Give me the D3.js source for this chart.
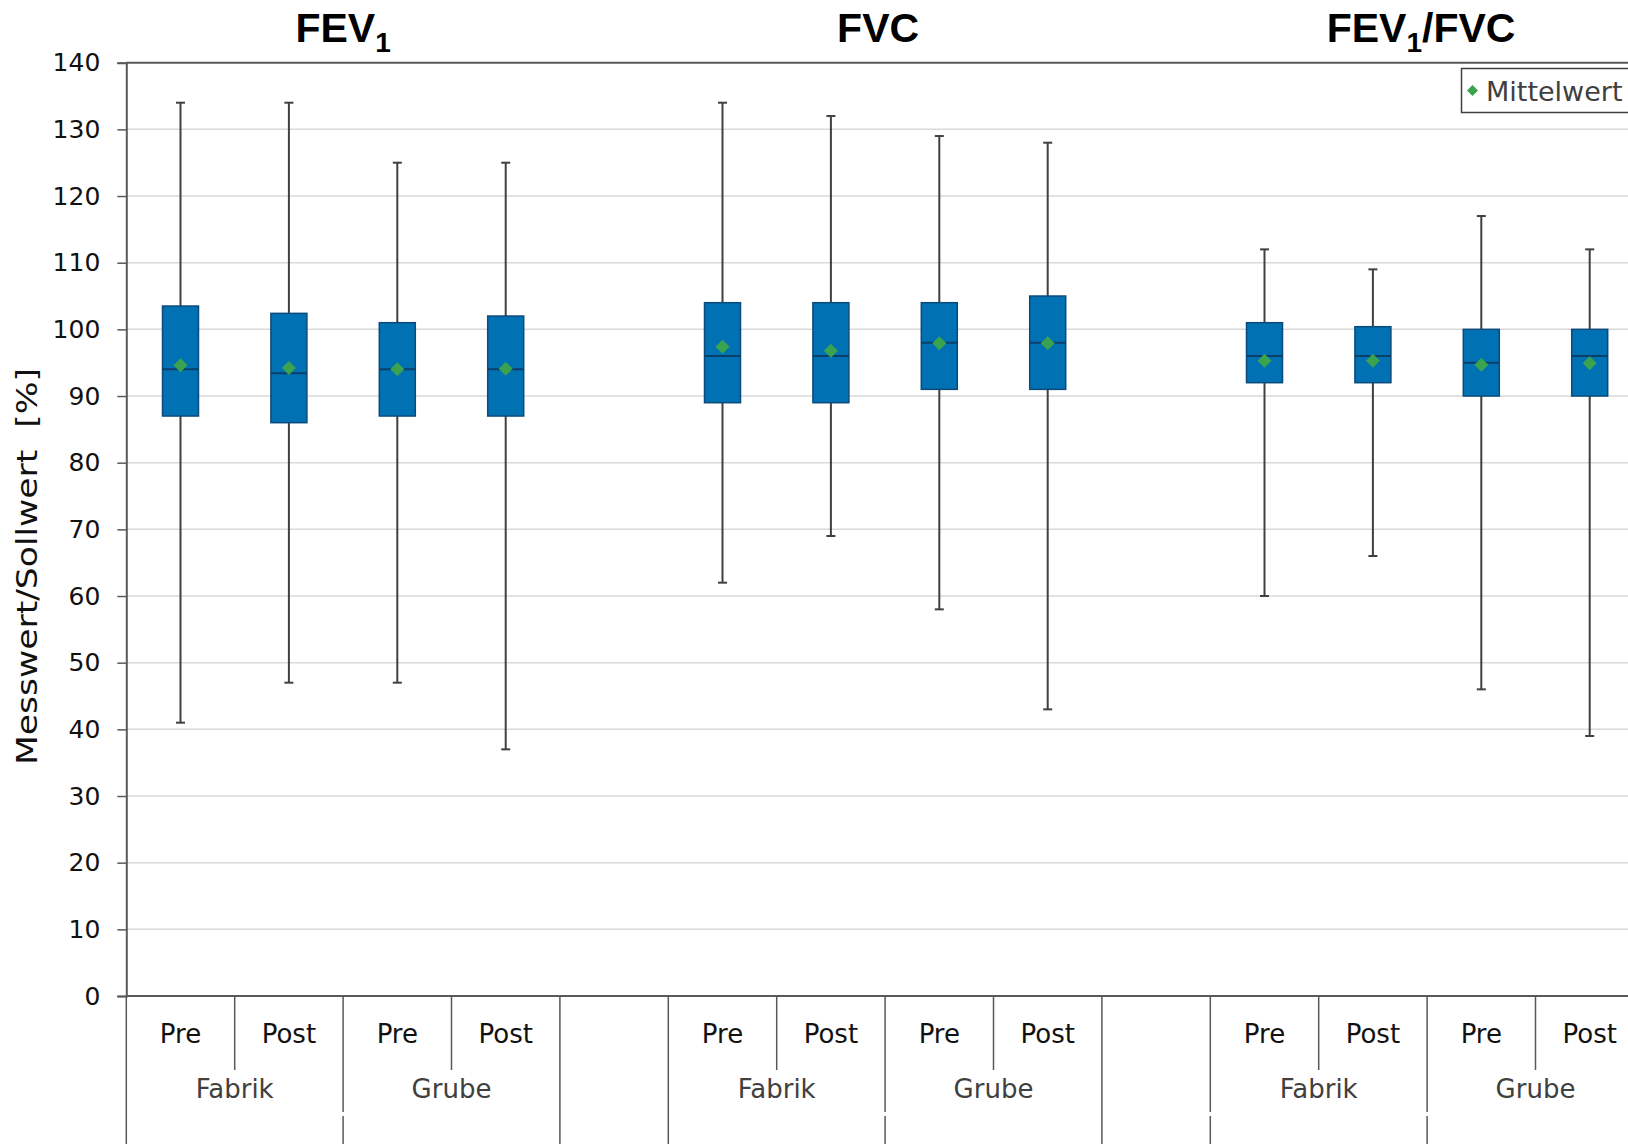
<!DOCTYPE html>
<html>
<head>
<meta charset="utf-8">
<script src="https://cdn.jsdelivr.net/npm/d3@7"></script>
<style>
  html, body { margin: 0; padding: 0; background: #fff; }
  svg { display: block; }
</style>
</head>
<body>
<svg id="chart" width="1628" height="1144"></svg>
<script>
// ---------- DATA ----------
const measures = ["FEV1", "FVC", "FEV1/FVC"];
const sites = ["Fabrik", "Grube"];
const phases = ["Pre", "Post"];
// one key per box, in drawing order
const boxKeys = [
  "FEV1|Fabrik|Pre", "FEV1|Fabrik|Post", "FEV1|Grube|Pre", "FEV1|Grube|Post",
  "FVC|Fabrik|Pre", "FVC|Fabrik|Post", "FVC|Grube|Pre", "FVC|Grube|Post",
  "FEV1/FVC|Fabrik|Pre", "FEV1/FVC|Fabrik|Post", "FEV1/FVC|Grube|Pre", "FEV1/FVC|Grube|Post"
];
// slots on the category axis (empty slots between the measures)
const slotKeys = [
  "FEV1|Fabrik|Pre", "FEV1|Fabrik|Post", "FEV1|Grube|Pre", "FEV1|Grube|Post", "gap1",
  "FVC|Fabrik|Pre", "FVC|Fabrik|Post", "FVC|Grube|Pre", "FVC|Grube|Post", "gap2",
  "FEV1/FVC|Fabrik|Pre", "FEV1/FVC|Fabrik|Post", "FEV1/FVC|Grube|Pre", "FEV1/FVC|Grube|Post"
];
const whiskerMax = [134, 134, 125, 125, 134, 132, 129, 128, 112, 109, 117, 112];
const q3Values   = [103.5, 102.4, 101, 102, 104, 104, 104, 105, 101, 100.4, 100, 100];
const medians    = [94, 93.4, 94, 94, 96, 96, 98, 98, 96, 96, 95, 96];
const q1Values   = [87, 86, 87, 87, 89, 89, 91, 91, 92, 92, 90, 90];
const whiskerMin = [41, 47, 47, 37, 62, 69, 58, 43, 60, 66, 46, 39];
const means      = [94.6, 94.2, 94, 94.1, 97.4, 96.8, 97.9, 97.9, 95.3, 95.3, 94.7, 94.9];
const yTicks = [0, 10, 20, 30, 40, 50, 60, 70, 80, 90, 100, 110, 120, 130, 140];
const yLabel = "Messwert/Sollwert  [%]";
const legendLabel = "Mittelwert";

// ---------- LAYOUT ----------
const svg = d3.select("#chart");
const W = 1628, H = 1144;
const plotLeft = 126.3, plotTop = 62.7, plotBottom = 996;
const slotW = 108.4;
const plotRight = plotLeft + slotW * slotKeys.length;

const x = d3.scaleBand().domain(slotKeys).range([plotLeft, plotRight]).paddingInner(0).paddingOuter(0);
const y = d3.scaleLinear().domain([0, 140]).range([plotBottom, plotTop]);

const boxes = boxKeys.map((k, i) => ({
  key: k, hi: whiskerMax[i], q3: q3Values[i], med: medians[i],
  q1: q1Values[i], lo: whiskerMin[i], mean: means[i]
}));

const FONT = "'DejaVu Sans', Verdana, sans-serif";
const AXIS_COL = "#595959";
const diamondPath = r => `M0,${-r}L${r},0L0,${r}L${-r},0Z`;

svg.append("rect").attr("width", W).attr("height", H).attr("fill", "#fff");

// gridlines
svg.append("g").selectAll("line")
  .data(yTicks.filter(t => t > 0 && t < 140))
  .join("line")
  .attr("x1", plotLeft).attr("x2", W)
  .attr("y1", d => y(d)).attr("y2", d => y(d))
  .attr("stroke", "#d9d9d9").attr("stroke-width", 1.5);

// top frame line
svg.append("line").attr("x1", plotLeft).attr("x2", W)
  .attr("y1", y(140)).attr("y2", y(140))
  .attr("stroke", AXIS_COL).attr("stroke-width", 2);

// y axis
const yAxis = d3.axisLeft(y).tickValues(yTicks).tickSize(9).tickPadding(17).tickFormat(d3.format("d"));
const yG = svg.append("g").attr("transform", `translate(${plotLeft},0)`).call(yAxis);
yG.select(".domain").attr("stroke", AXIS_COL).attr("stroke-width", 2);
yG.selectAll(".tick line").attr("stroke", AXIS_COL).attr("stroke-width", 1.5);
yG.selectAll(".tick text").attr("font-family", FONT).attr("font-size", 25).attr("fill", "#111");

// y axis title
svg.append("text")
  .attr("transform", `translate(37,${566.5}) rotate(-90)`)
  .attr("text-anchor", "middle")
  .attr("font-family", FONT).attr("font-size", 29).attr("fill", "#111")
  .attr("textLength", 397).attr("lengthAdjust", "spacingAndGlyphs")
  .style("white-space", "pre")
  .text(yLabel);

// x axis line
svg.append("line").attr("x1", plotLeft).attr("x2", W)
  .attr("y1", plotBottom).attr("y2", plotBottom)
  .attr("stroke", AXIS_COL).attr("stroke-width", 2);

// multi-level category axis
const catG = svg.append("g");
const measureGroups = measures.map(m => {
  const ks = slotKeys.filter(k => k.split("|")[0] === m);
  return { m, start: x(ks[0]), end: x(ks[ks.length - 1]) + x.bandwidth() };
});
// phase dividers (between Pre and Post)
boxKeys.filter(k => k.endsWith("|Post")).forEach(k => {
  catG.append("line").attr("x1", x(k)).attr("x2", x(k))
    .attr("y1", plotBottom).attr("y2", 1070)
    .attr("stroke", AXIS_COL).attr("stroke-width", 1.5);
});
// site boundaries
const siteBounds = [];
measureGroups.forEach((g, gi) => {
  const mid = x(`${g.m}|Grube|Pre`);
  siteBounds.push({ x: g.start, gap: gi === 2 });
  siteBounds.push({ x: mid, gap: true });
  siteBounds.push({ x: g.end, gap: false });
});
siteBounds.forEach(b => {
  if (b.gap) {
    catG.append("line").attr("x1", b.x).attr("x2", b.x).attr("y1", plotBottom).attr("y2", 1112)
      .attr("stroke", AXIS_COL).attr("stroke-width", 1.5);
    catG.append("line").attr("x1", b.x).attr("x2", b.x).attr("y1", 1116).attr("y2", H)
      .attr("stroke", AXIS_COL).attr("stroke-width", 1.5);
  } else {
    catG.append("line").attr("x1", b.x).attr("x2", b.x).attr("y1", plotBottom).attr("y2", H)
      .attr("stroke", AXIS_COL).attr("stroke-width", 1.5);
  }
});
// phase labels
catG.selectAll("text.phase").data(boxKeys).join("text")
  .attr("class", "phase")
  .attr("x", d => x(d) + x.bandwidth() / 2).attr("y", 1042.5)
  .attr("text-anchor", "middle")
  .attr("font-family", FONT).attr("font-size", 26).attr("fill", "#111")
  .text(d => d.split("|")[2]);
// site labels
const siteLabels = [];
measures.forEach(m => sites.forEach(s => {
  siteLabels.push({ label: s, cx: x(`${m}|${s}|Pre`) + x.bandwidth() });
}));
catG.selectAll("text.site").data(siteLabels).join("text")
  .attr("class", "site")
  .attr("x", d => d.cx).attr("y", 1098)
  .attr("text-anchor", "middle")
  .attr("font-family", FONT).attr("font-size", 26).attr("fill", "#404040")
  .text(d => d.label);

// measure titles
const titleOffsets = [0, -7, -6];
measureGroups.forEach((g, gi) => {
  const tx = (g.start + g.end) / 2 + titleOffsets[gi];
  const t = svg.append("text").attr("x", tx).attr("y", 42)
    .attr("text-anchor", "middle")
    .attr("font-family", "'Liberation Sans', Arial, sans-serif")
    .attr("font-weight", "bold").attr("font-size", 41).attr("fill", "#000");
  const parts = g.m.split(/(1)/).filter(p => p.length);
  let prevSub = false;
  parts.forEach(p => {
    if (p === "1") {
      t.append("tspan").attr("font-size", 28).attr("dy", 10).text("1");
      prevSub = true;
    } else {
      t.append("tspan").attr("dy", prevSub ? -10 : 0).text(p);
      prevSub = false;
    }
  });
});

// boxes
const bw = 36, capW = 9;
const bG = svg.append("g");
const cx = d => x(d.key) + x.bandwidth() / 2;
// whiskers
bG.selectAll("line.wu").data(boxes).join("line").attr("class", "wu")
  .attr("x1", cx).attr("x2", cx).attr("y1", d => y(d.hi)).attr("y2", d => y(d.q3))
  .attr("stroke", "#404040").attr("stroke-width", 2);
bG.selectAll("line.wl").data(boxes).join("line").attr("class", "wl")
  .attr("x1", cx).attr("x2", cx).attr("y1", d => y(d.q1)).attr("y2", d => y(d.lo))
  .attr("stroke", "#404040").attr("stroke-width", 2);
bG.selectAll("line.cu").data(boxes).join("line").attr("class", "cu")
  .attr("x1", d => cx(d) - capW / 2).attr("x2", d => cx(d) + capW / 2)
  .attr("y1", d => y(d.hi)).attr("y2", d => y(d.hi))
  .attr("stroke", "#404040").attr("stroke-width", 2);
bG.selectAll("line.cl").data(boxes).join("line").attr("class", "cl")
  .attr("x1", d => cx(d) - capW / 2).attr("x2", d => cx(d) + capW / 2)
  .attr("y1", d => y(d.lo)).attr("y2", d => y(d.lo))
  .attr("stroke", "#404040").attr("stroke-width", 2);
// box bodies
bG.selectAll("rect.box").data(boxes).join("rect").attr("class", "box")
  .attr("x", d => cx(d) - bw / 2).attr("width", bw)
  .attr("y", d => y(d.q3)).attr("height", d => y(d.q1) - y(d.q3))
  .attr("fill", "#0072B4").attr("stroke", "#0B4A7A").attr("stroke-width", 1.5);
// medians
bG.selectAll("line.med").data(boxes).join("line").attr("class", "med")
  .attr("x1", d => cx(d) - bw / 2).attr("x2", d => cx(d) + bw / 2)
  .attr("y1", d => y(d.med)).attr("y2", d => y(d.med))
  .attr("stroke", "#0B3F6A").attr("stroke-width", 2);
// means
bG.selectAll("path.mean").data(boxes).join("path").attr("class", "mean")
  .attr("transform", d => `translate(${cx(d)},${y(d.mean)})`)
  .attr("d", diamondPath(7))
  .attr("fill", "#3BA34F");

// legend
const lg = svg.append("g");
lg.append("rect").attr("x", 1461.5).attr("y", 68.5).attr("width", 170).attr("height", 44)
  .attr("fill", "#fff").attr("stroke", "#404040").attr("stroke-width", 1.5);
lg.append("path").attr("transform", "translate(1472.5,90.5)")
  .attr("d", diamondPath(5.5)).attr("fill", "#3BA34F");
lg.append("text").attr("x", 1486).attr("y", 100.5)
  .attr("font-family", FONT).attr("font-size", 27).attr("fill", "#404040")
  .text(legendLabel);
</script>
</body>
</html>
